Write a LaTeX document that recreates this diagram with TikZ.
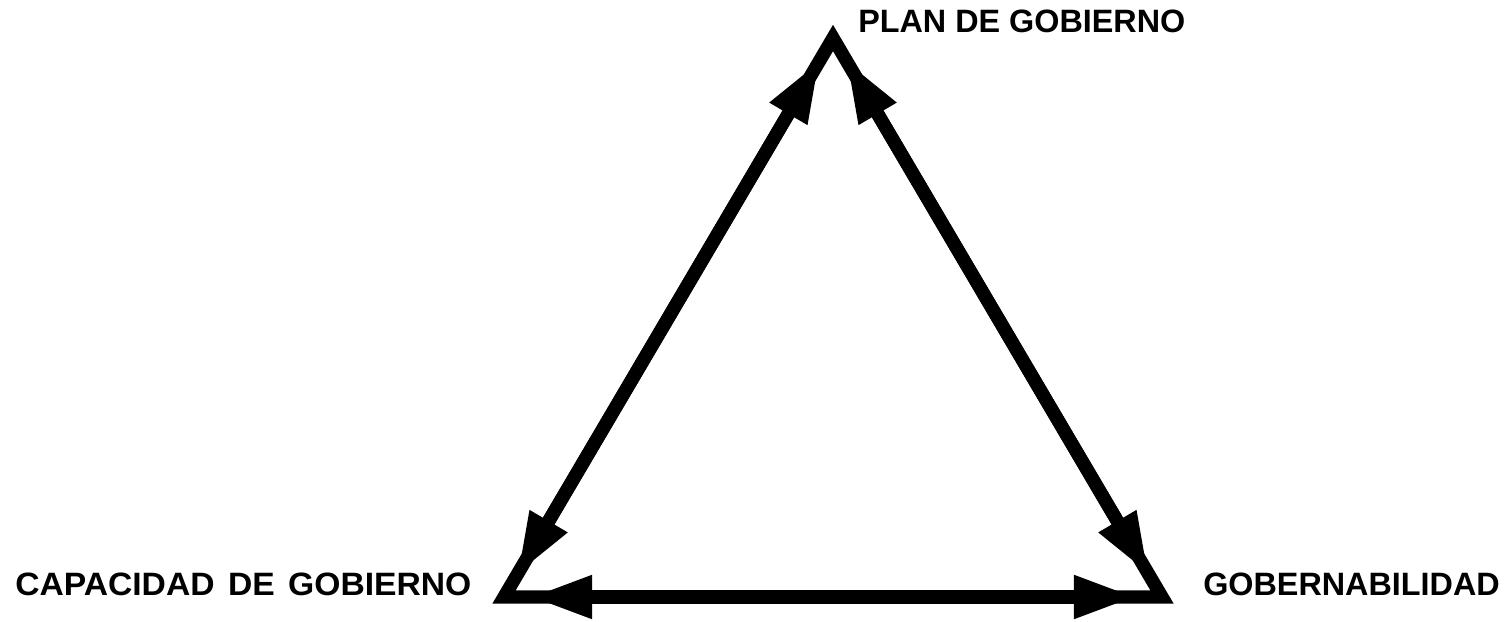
\documentclass[tikz,border=0pt]{standalone}
\usepackage{fontspec}
\setmainfont{Liberation Sans}
\usetikzlibrary{arrows.meta}

\begin{document}
\begin{tikzpicture}[x=0.025cm,y=-0.025cm,
  lbl/.style={inner sep=0pt,anchor=base west,font=\bfseries\fontsize{23}{23}\selectfont},
  edge/.style={line width=9.5pt,line join=miter},
  side/.style={line width=9.5pt,
    {Triangle[length=1.55cm,width=1cm]}-{Triangle[length=1.55cm,width=1cm]},
    shorten <=0.65cm,shorten >=0.65cm}]
 \useasboundingbox (0,0) rectangle (1512,622);
 \coordinate (P) at (833,38);
 \coordinate (C) at (504,597);
 \coordinate (G) at (1162,597);
 \draw[edge] (P) -- (G) -- (C) -- cycle;
 \foreach \a/\b in {P/C,C/G,G/P}
   \draw[side] (\a)--(\b);
 \node[lbl] (plan) at (858,33) {PLAN DE GOBIERNO};
 \node[lbl,xscale=1.04] (capac) at (15,595) {CAPACIDAD\hspace{0.4em}DE\hspace{0.4em}GOBIERNO};
 \node[lbl] (gober) at (1203,595) {GOBERNABILIDAD};
\end{tikzpicture}
\end{document}
